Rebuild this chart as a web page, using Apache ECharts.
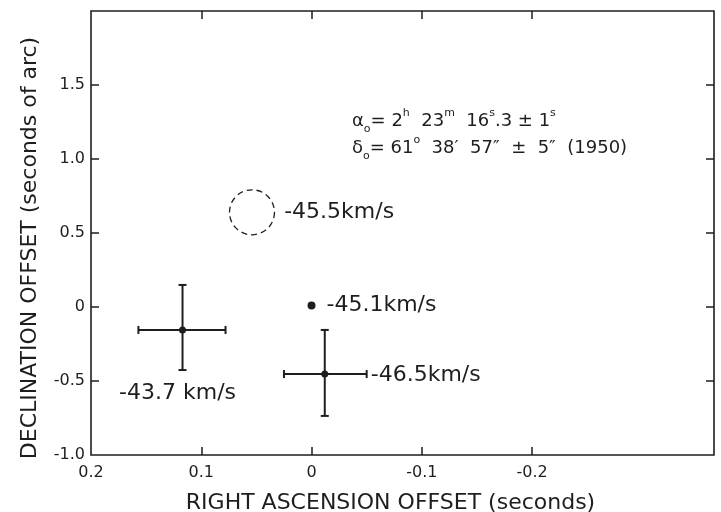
<!DOCTYPE html>
<html>
<head>
<meta charset="utf-8">
<script src="https://cdn.jsdelivr.net/npm/echarts@6/dist/echarts.min.js"></script>
<style>
  html, body { margin: 0; padding: 0; background: #fff; }
  #main { width: 721px; height: 512px; }
</style>
</head>
<body>
<div id="main"></div>
<script>
// ticks
var xTickValues = [0.2, 0.1, 0, -0.1, -0.2];
var xTickLabels = ['0.2', '0.1', '0', '-0.1', '-0.2'];
var yTickValues = [-1, -0.5, 0, 0.5, 1, 1.5];
var yTickLabels = ['-1.0', '-0.5', '0', '0.5', '1.0', '1.5'];

// positions with error bars (RA offset in s, Dec offset in arcsec)
var crossX = [0.117, -0.012];
var crossY = [-0.155, -0.453];
var crossXLo = [0.157, 0.025];
var crossXHi = [0.078, -0.05];
var crossYLo = [-0.426, -0.736];
var crossYHi = [0.149, -0.155];
var crossLabels = ['-43.7 km/s', '-46.5km/s'];

// single dot
var dotX = [0.0];
var dotY = [0.01];
var dotLabels = ['-45.1km/s'];

// dashed circle
var ringX = [0.054];
var ringY = [0.64];
var ringLabels = ['-45.5km/s'];

(function () {
    var chartDom = document.getElementById('main');
    var myChart = echarts.init(chartDom);
    var option;

    var ink = '#1e1e1e';
    var font = 'DejaVu Sans';

    function lookup(values, labels) {
        return function (v) {
            for (var i = 0; i < values.length; i++) {
                if (Math.abs(values[i] - v) < 1e-9) return labels[i];
            }
            return '';
        };
    }

    var crossData = crossX.map(function (x, i) {
        return [x, crossY[i], crossXLo[i], crossXHi[i], crossYLo[i], crossYHi[i]];
    });
    // label placement for each cross, in px from the centre
    var crossLabelPos = [
        { dx: -5, dy: 63, align: 'center' },
        { dx: 46, dy: 1, align: 'left' }
    ];

    function renderCross(params, api) {
        var c = api.coord([api.value(0), api.value(1)]);
        var l = api.coord([api.value(2), api.value(1)]);
        var r = api.coord([api.value(3), api.value(1)]);
        var b = api.coord([api.value(0), api.value(4)]);
        var t = api.coord([api.value(0), api.value(5)]);
        var cap = 4;
        var st = { stroke: ink, lineWidth: 2 };
        var lp = crossLabelPos[params.dataIndex];
        return {
            type: 'group',
            children: [
                { type: 'line', shape: { x1: l[0], y1: l[1], x2: r[0], y2: r[1] }, style: st },
                { type: 'line', shape: { x1: t[0], y1: t[1], x2: b[0], y2: b[1] }, style: st },
                { type: 'line', shape: { x1: l[0], y1: l[1] - cap, x2: l[0], y2: l[1] + cap }, style: st },
                { type: 'line', shape: { x1: r[0], y1: r[1] - cap, x2: r[0], y2: r[1] + cap }, style: st },
                { type: 'line', shape: { x1: t[0] - cap, y1: t[1], x2: t[0] + cap, y2: t[1] }, style: st },
                { type: 'line', shape: { x1: b[0] - cap, y1: b[1], x2: b[0] + cap, y2: b[1] }, style: st },
                { type: 'circle', shape: { cx: c[0], cy: c[1], r: 3.5 }, style: { fill: ink } },
                {
                    type: 'text',
                    x: c[0] + lp.dx,
                    y: c[1] + lp.dy,
                    style: {
                        text: crossLabels[params.dataIndex],
                        fill: ink,
                        font: '22px "' + font + '"',
                        align: lp.align,
                        verticalAlign: 'middle'
                    }
                }
            ]
        };
    }

    var tickStyle = { inside: true, length: 8, lineStyle: { color: ink, width: 1.5 } };
    var noLine = { show: false, onZero: false };

    option = {
        animation: false,
        backgroundColor: '#fff',
        textStyle: { fontFamily: font, color: ink },
        grid: {
            left: 91,
            right: 7,
            top: 11,
            bottom: 57,
            outerBoundsMode: 'none',
            containLabel: false,
            show: true,
            borderColor: ink,
            borderWidth: 1.6
        },
        xAxis: [
            {
                type: 'value',
                min: -0.365,
                max: 0.2,
                inverse: true,
                position: 'bottom',
                axisLine: noLine,
                splitLine: { show: false },
                axisTick: Object.assign({ customValues: [0.1, 0, -0.1, -0.2] }, tickStyle),
                axisLabel: {
                    customValues: xTickValues,
                    formatter: lookup(xTickValues, xTickLabels),
                    color: ink,
                    fontSize: 16,
                    fontFamily: font,
                    margin: 10
                },
                name: 'RIGHT ASCENSION OFFSET (seconds)',
                nameLocation: 'middle',
                nameGap: 37,
                nameTextStyle: { fontSize: 22, color: ink, fontFamily: font, padding: [0, 24, 0, 0] }
            },
            {
                type: 'value',
                min: -0.365,
                max: 0.2,
                inverse: true,
                position: 'top',
                axisLine: noLine,
                splitLine: { show: false },
                axisTick: Object.assign({ customValues: [0.1, 0, -0.1, -0.2] }, tickStyle),
                axisLabel: { show: false }
            }
        ],
        yAxis: [
            {
                type: 'value',
                min: -1,
                max: 2,
                position: 'left',
                axisLine: noLine,
                splitLine: { show: false },
                axisTick: Object.assign({ customValues: [-0.5, 0, 0.5, 1, 1.5] }, tickStyle),
                axisLabel: {
                    customValues: yTickValues,
                    formatter: lookup(yTickValues, yTickLabels),
                    color: ink,
                    fontSize: 16,
                    fontFamily: font,
                    margin: 6
                },
                name: 'DECLINATION OFFSET (seconds of arc)',
                nameLocation: 'middle',
                nameGap: 50,
                nameTextStyle: { fontSize: 22, color: ink, fontFamily: font, padding: [0, 30, 0, 0] }
            },
            {
                type: 'value',
                min: -1,
                max: 2,
                position: 'right',
                axisLine: noLine,
                splitLine: { show: false },
                axisTick: Object.assign({ customValues: [-0.5, 0, 0.5, 1, 1.5] }, tickStyle),
                axisLabel: { show: false }
            }
        ],
        graphic: [
            {
                type: 'text',
                left: 352,
                top: 108,
                style: {
                    text: '{b|α}{s|o}{b|= 2}{p|h}{b|  23}{p|m}{b|  16}{p|s}{b|.3 ± 1}{p|s}\n' +
                          '{b|δ}{s|o}{b|= 61}{p|o}{b|  38′  57″  ±  5″  (1950)}',
                    fill: ink,
                    rich: {
                        b: { fontSize: 18, fontFamily: font, color: ink, lineHeight: 27 },
                        p: { fontSize: 11, fontFamily: font, color: ink, lineHeight: 27, verticalAlign: 'top' },
                        s: { fontSize: 11, fontFamily: font, color: ink, lineHeight: 27, verticalAlign: 'bottom' }
                    }
                }
            }
        ],
        series: [
            {
                type: 'custom',
                name: 'crosses',
                renderItem: renderCross,
                encode: { x: 0, y: 1 },
                data: crossData,
                silent: true
            },
            {
                type: 'scatter',
                name: 'dot',
                symbol: 'circle',
                symbolSize: 8,
                itemStyle: { color: ink, opacity: 1 },
                label: {
                    show: true,
                    position: 'right',
                    distance: 11,
                    fontSize: 22,
                    fontFamily: font,
                    color: ink,
                    formatter: function (p) { return dotLabels[p.dataIndex]; }
                },
                data: dotX.map(function (x, i) { return [x, dotY[i]]; }),
                silent: true
            },
            {
                type: 'scatter',
                name: 'ring',
                symbol: 'circle',
                symbolSize: 45,
                itemStyle: {
                    color: 'rgba(0,0,0,0)',
                    opacity: 1,
                    borderColor: ink,
                    borderWidth: 1.3,
                    borderType: [6, 4]
                },
                label: {
                    show: true,
                    position: 'right',
                    distance: 9,
                    fontSize: 22,
                    fontFamily: font,
                    color: ink,
                    formatter: function (p) { return ringLabels[p.dataIndex]; }
                },
                data: ringX.map(function (x, i) { return [x, ringY[i]]; }),
                silent: true
            }
        ]
    };

    myChart.setOption(option);
    window.addEventListener('resize', function () {
        myChart.resize();
    });
})();
</script>
</body>
</html>
